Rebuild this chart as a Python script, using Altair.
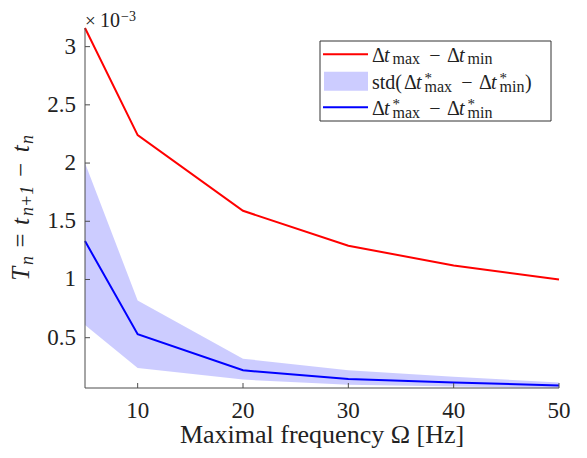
import altair as alt
import pandas as pd

# ---- data (values in units of 1e-3) ----
freq = [5, 10, 20, 30, 40, 50]
dt_range = [3.16, 2.24, 1.59, 1.29, 1.12, 1.00]
dt_star = [1.33, 0.53, 0.22, 0.145, 0.115, 0.09]
std_hi = [2.00, 0.82, 0.32, 0.22, 0.165, 0.115]
std_lo = [0.61, 0.24, 0.14, 0.095, 0.08, 0.068]
x_ticks = [10, 20, 30, 40, 50]
x_labels = ["10", "20", "30", "40", "50"]
y_ticks = [0.5, 1.0, 1.5, 2.0, 2.5, 3.0]
y_labels = ["0.5", "1", "1.5", "2", "2.5", "3"]

df = pd.DataFrame({"f": freq, "r": dt_range, "b": dt_star, "hi": std_hi, "lo": std_lo})
xdf = pd.DataFrame({"t": x_ticks, "lab": x_labels})
ydf = pd.DataFrame({"t": y_ticks, "lab": y_labels})

W, H = 474, 360
FONT = "Liberation Serif, DejaVu Serif, serif"
AX = "#4d4d4d"
TXT = "#222222"

xs = alt.Scale(domain=[5, 50], nice=False, zero=False)
ys = alt.Scale(domain=[0.068, 3.16], nice=False, zero=False)

band = alt.Chart(df).mark_area(color="#0000ff", opacity=0.2).encode(
    x=alt.X("f:Q", scale=xs, axis=None),
    y=alt.Y("lo:Q", scale=ys, axis=None),
    y2="hi:Q",
)
red = alt.Chart(df).mark_line(color="#ff0000", strokeWidth=2).encode(
    x=alt.X("f:Q", scale=xs, axis=None), y=alt.Y("r:Q", scale=ys, axis=None))
blue = alt.Chart(df).mark_line(color="#0000ff", strokeWidth=2).encode(
    x=alt.X("f:Q", scale=xs, axis=None), y=alt.Y("b:Q", scale=ys, axis=None))

one = pd.DataFrame({"a": [0]})

# axes drawn by hand (domain lines, inward ticks, labels)
xdom = alt.Chart(one).mark_rule(color=AX, strokeWidth=1).encode(
    x=alt.value(0), x2=alt.value(W), y=alt.value(H))
ydom = alt.Chart(one).mark_rule(color=AX, strokeWidth=1).encode(
    x=alt.value(0), y=alt.value(0), y2=alt.value(H))
xt = alt.Chart(xdf).mark_rule(color=AX, strokeWidth=1).encode(
    x=alt.X("t:Q", scale=xs, axis=None), y=alt.value(H), y2=alt.value(H - 5))
yt = alt.Chart(ydf).mark_rule(color=AX, strokeWidth=1).encode(
    y=alt.Y("t:Q", scale=ys, axis=None), x=alt.value(0), x2=alt.value(5))
xl = alt.Chart(xdf).mark_text(font=FONT, fontSize=23, color=TXT, align="center",
                              baseline="alphabetic").encode(
    x=alt.X("t:Q", scale=xs, axis=None), y=alt.value(H + 30), text="lab:N")
yl = alt.Chart(ydf).mark_text(font=FONT, fontSize=23, color=TXT, align="right",
                              baseline="middle").encode(
    y=alt.Y("t:Q", scale=ys, axis=None), x=alt.value(-9), text="lab:N")


def txt(s, x, y, size, style="normal", align="left", angle=0):
    return alt.Chart(one).mark_text(text=s, x=x, y=y, fontSize=size, font=FONT,
                                    fontStyle=style, align=align, baseline="alphabetic",
                                    angle=angle, color=TXT)


layers = [band, red, blue, xdom, ydom, xt, yt, xl, yl]

# x title
layers += [txt("Maximal frequency Ω [Hz]", W / 2, H + 55, 26, align="center")]

# exponent label
layers += [txt("×", 0, -1, 19), txt("10", 15, -1, 20), txt("−3", 36, -7, 14)]

# y title  T_n = t_{n+1} - t_n  (rotated)
bx, sx = -56, -52.5
layers += [
    txt("T", bx, 252.7, 25, "italic", angle=270),
    txt("n", sx, 237, 18, "italic", angle=270),
    txt("=", bx, 212.5, 25, align="center", angle=270),
    txt("t", bx, 197, 25, "italic", angle=270),
    txt("n+1", sx, 188, 18, "italic", angle=270),
    txt("−", bx, 142, 25, align="center", angle=270),
    txt("t", bx, 124.3, 25, "italic", angle=270),
    txt("n", sx, 116, 18, "italic", angle=270),
]

# legend
box = alt.Chart(one).mark_rect(fill="white", stroke="#333333", strokeWidth=1).encode(
    x=alt.value(235), x2=alt.value(466), y=alt.value(13), y2=alt.value(93))
l1 = alt.Chart(one).mark_rule(color="#ff0000", strokeWidth=2).encode(
    x=alt.value(238), x2=alt.value(283), y=alt.value(26.3))
l2 = alt.Chart(one).mark_rect(fill="#ccccff").encode(
    x=alt.value(239), x2=alt.value(283), y=alt.value(43.7), y2=alt.value(62.7))
l3 = alt.Chart(one).mark_rule(color="#0000ff", strokeWidth=2).encode(
    x=alt.value(238), x2=alt.value(283), y=alt.value(79.3))
layers += [box, l1, l2, l3]

LS, SS = 20, 16
# entry 1
b1 = 33.7
layers += [
    txt("Δ", 287, b1, LS), txt("t", 299, b1, LS, "italic"), txt("max", 307.5, b1 + 2.5, SS),
    txt("−", 350, b1, LS, align="center"),
    txt("Δ", 362, b1, LS), txt("t", 374, b1, LS, "italic"), txt("min", 382.5, b1 + 2.5, SS),
]
# entry 2
b2 = 60.5
layers += [
    txt("std(", 287, b2, LS),
    txt("Δ", 319, b2, LS), txt("t", 331, b2, LS, "italic"),
    txt("*", 339.5, b2 - 6, 15), txt("max", 339.5, b2 + 3, SS),
    txt("−", 382, b2, LS, align="center"),
    txt("Δ", 394, b2, LS), txt("t", 406, b2, LS, "italic"),
    txt("*", 414.5, b2 - 6, 15), txt("min", 414.5, b2 + 3, SS),
    txt(")", 440, b2, LS),
]
# entry 3
b3 = 86.7
layers += [
    txt("Δ", 287, b3, LS), txt("t", 299, b3, LS, "italic"),
    txt("*", 307.5, b3 - 6, 15), txt("max", 307.5, b3 + 3, SS),
    txt("−", 350, b3, LS, align="center"),
    txt("Δ", 362, b3, LS), txt("t", 374, b3, LS, "italic"),
    txt("*", 382.5, b3 - 6, 15), txt("min", 382.5, b3 + 3, SS),
]

chart = alt.layer(*layers).properties(
    width=W, height=H,
    background="white",
    autosize=alt.AutoSizeParams(type="none"),
    padding={"left": 77, "top": 20, "right": 20, "bottom": 62},
).configure_view(stroke=None)

chart.save("out.html", embed_options={"renderer": "svg", "actions": False})
